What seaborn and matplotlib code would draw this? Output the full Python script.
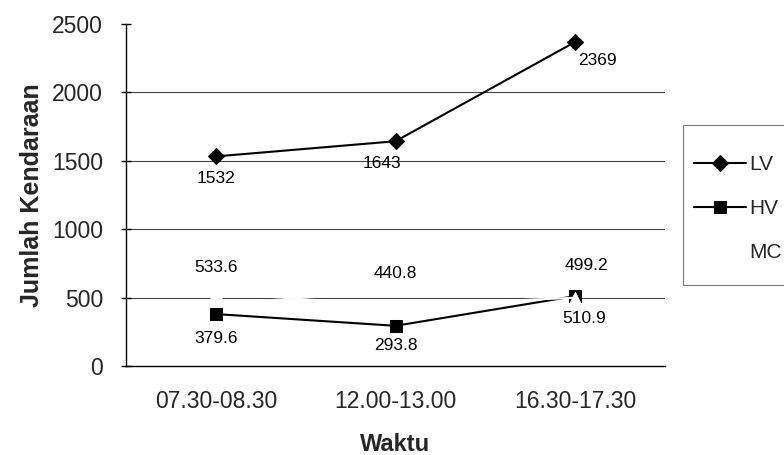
import matplotlib
matplotlib.use("Agg")
import matplotlib.pyplot as plt
from matplotlib.patches import Rectangle
import seaborn as sns
import numpy as np
import pandas as pd

categories = ["07.30-08.30", "12.00-13.00", "16.30-17.30"]
lv = [1532, 1643, 2369]
hv = [379.6, 293.8, 510.9]
mc = [533.6, 440.8, 499.2]
yticks = [0, 500, 1000, 1500, 2000, 2500]

sns.set_theme(style="white")
plt.rcParams['font.family'] = ['Liberation Sans', 'DejaVu Sans']

DPI = 100
W, H = 784, 455
fig = plt.figure(figsize=(W/DPI, H/DPI), dpi=DPI)
ax = fig.add_axes([126/W, 1-366/H, (665-126)/W, (366-24)/H])

pos = np.arange(len(categories)) + 0.5
df = pd.DataFrame({"x": np.tile(pos, 3),
                   "y": lv + hv + mc,
                   "s": ["LV"]*3 + ["HV"]*3 + ["MC"]*3})

for yv in yticks[1:-1]:
    ax.axhline(yv, color="#444444", lw=0.8, zorder=0)

sns.lineplot(data=df[df.s == "LV"], x="x", y="y", ax=ax, color="black", lw=1.5,
             marker="D", markersize=8, markeredgecolor="black", label="LV", zorder=3)
sns.lineplot(data=df[df.s == "HV"], x="x", y="y", ax=ax, color="black", lw=1.5,
             marker="s", markersize=8.5, markeredgecolor="black", label="HV", zorder=3)
sns.lineplot(data=df[df.s == "MC"], x="x", y="y", ax=ax, color="white", lw=1.5,
             marker="^", markersize=8.5, markeredgecolor="white", label="MC", zorder=4)

px = 72.0 / DPI  # pixels -> points
fs = 12.5
lv_off = [(0, -22), (-14, -22), (22, -19)]
hv_off = [(0, -24), (0, -20), (9, -22)]
mc_off = [(0, 26), (0, 32), (11, 32)]
for vals, offs in ((lv, lv_off), (hv, hv_off), (mc, mc_off)):
    for p, v, (dx, dy) in zip(pos, vals, offs):
        ax.annotate(f"{v}", (p, v), xytext=(dx*px, dy*px), textcoords="offset points",
                    ha="center", va="center", fontsize=fs, color="black", zorder=6)

ax.set_xlim(0, 3)
ax.set_ylim(0, 2500)
ax.set_yticks(yticks)
ax.set_yticklabels([str(t) for t in yticks], fontsize=16.5)
ax.set_xticks(pos)
ax.set_xticklabels(categories, fontsize=16.5)
ax.set_xticks([0, 1, 2, 3], minor=True)
ax.tick_params(axis="x", which="major", length=0, pad=17)
ax.tick_params(axis="x", which="minor", length=5, width=1, color="black", direction="out")
ax.tick_params(axis="y", length=7, width=1, color="black", direction="inout", left=True, pad=13)

for s in ["top", "right"]:
    ax.spines[s].set_visible(False)
for s in ["left", "bottom"]:
    ax.spines[s].set_color("black")
    ax.spines[s].set_linewidth(1)

ax.set_xlabel("Waktu", fontsize=17, fontweight="bold", labelpad=15)
ax.set_ylabel("Jumlah Kendaraan", fontsize=18, fontweight="bold", labelpad=6)

# legend frame (partially cut off at right edge, as in the reference)
fig.patches.append(Rectangle((683/W, 1-285/H), (W+20-683)/W, (285-125)/H,
                             transform=fig.transFigure, fill=False,
                             edgecolor="#777777", lw=0.8, clip_on=False))
leg = ax.legend(loc="upper left", bbox_to_anchor=(694/W, 1-155/H),
                bbox_transform=fig.transFigure, frameon=False, fontsize=15,
                handlelength=2.5, handletextpad=0.15, labelspacing=1.2,
                borderpad=0, borderaxespad=0)

fig.savefig("out.png", dpi=DPI)
